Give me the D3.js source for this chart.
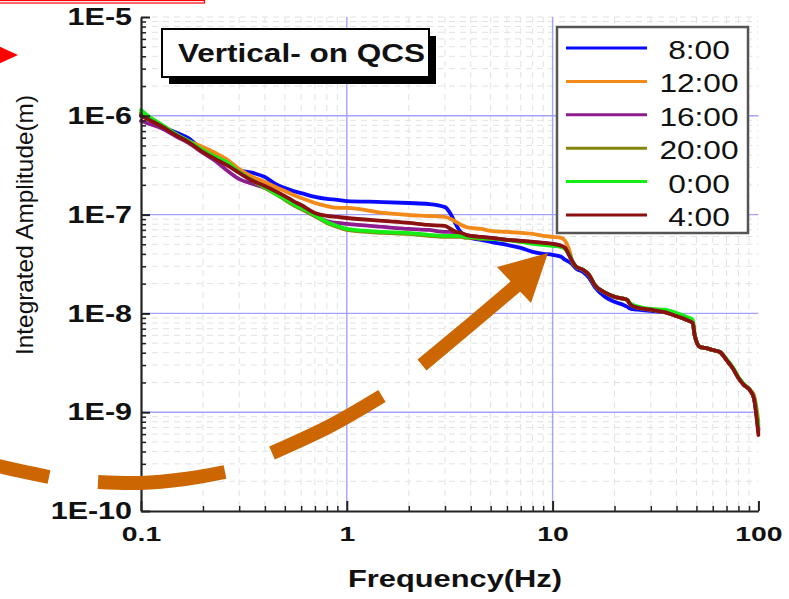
<!DOCTYPE html>
<html><head><meta charset="utf-8">
<script src="https://cdn.jsdelivr.net/npm/d3@7"></script>
<style>
html,body{margin:0;padding:0;background:#fff;}
svg{display:block;}
text{font-family:"Liberation Sans",Arial,Helvetica,sans-serif;}
</style></head><body>
<svg id="chart" width="789" height="599"></svg>
<script>
// ---------------- DATA ----------------
const frequency = [0.1,0.11,0.125,0.15,0.17,0.2,0.23,0.26,0.3,0.35,0.4,0.45,0.5,0.55,0.6,0.7,0.8,0.9,1,1.5,2,2.5,3,3.2,3.4,3.6,3.8,4,4.5,5,6,7,8,9,10,11,11.5,12,12.5,13,14,15,16,18,20,22,23,24,26,30,35,40,45,48,49,52,55,60,65,70,75,80,85,90,95,100];

const amp0800 = [1.02e-6,9.28e-7,7.88e-7,6.70e-7,5.96e-7, 4.50e-7,3.92e-7,3.41e-7,2.83e-7,2.64e-7, 2.40e-7,2.04e-7,1.86e-7,1.73e-7,1.65e-7, 1.51e-7,1.44e-7,1.41e-7,1.37e-7,1.34e-7, 1.31e-7,1.28e-7,1.19e-7,1.01e-7,7.86e-8, 6.53e-8,6.09e-8,5.81e-8,5.55e-8,5.30e-8, 4.94e-8,4.61e-8,4.20e-8,4.01e-8,3.92e-8, 3.74e-8,3.49e-8,3.33e-8,3.11e-8,2.84e-8, 2.64e-8,2.30e-8,1.86e-8,1.47e-8,1.31e-8, 1.22e-8,1.17e-8,1.11e-8,1.09e-8,1.06e-8, 1.03e-8,9.41e-9,8.57e-9,7.99e-9,6.04e-9, 4.57e-9,4.47e-9,4.26e-9,4.07e-9,3.38e-9, 2.80e-9,2.22e-9,1.89e-9,1.72e-9,1.40e-9, 6.60e-10];
const amp1200 = [1.067e-6,9.28e-7,7.88e-7,6.39e-7,5.56e-7, 4.83e-7,4.20e-7,3.65e-7,2.89e-7,2.40e-7, 2.14e-7,1.90e-7,1.73e-7,1.58e-7,1.47e-7, 1.31e-7,1.22e-7,1.17e-7,1.17e-7,1.04e-7, 9.91e-8,9.68e-8,9.46e-8,9.03e-8,8.42e-8, 7.86e-8,7.50e-8,7.33e-8,7.16e-8,6.84e-8, 6.68e-8,6.53e-8,6.38e-8,6.09e-8,5.95e-8, 5.81e-8,5.42e-8,4.51e-8,3.33e-8,2.97e-8, 2.77e-8,2.46e-8,1.95e-8,1.62e-8,1.47e-8, 1.41e-8,1.37e-8,1.22e-8,1.14e-8,1.09e-8, 1.03e-8,9.41e-9,8.57e-9,7.99e-9,6.04e-9, 4.57e-9,4.47e-9,4.26e-9,4.07e-9,3.38e-9, 2.80e-9,2.22e-9,1.89e-9,1.72e-9,1.50e-9, 8.0e-10];
const amp1600 = [8.86e-7,8.26e-7,7.52e-7,6.10e-7,5.31e-7, 4.20e-7,3.49e-7,2.83e-7,2.29e-7,2.04e-7, 1.86e-7,1.65e-7,1.47e-7,1.31e-7,1.17e-7, 9.68e-8,8.62e-8,8.23e-8,8.04e-8,7.50e-8, 7.16e-8,7.00e-8,6.68e-8,6.68e-8,6.53e-8, 6.38e-8,6.23e-8,6.09e-8,5.95e-8,5.81e-8, 5.55e-8,5.42e-8,5.30e-8,5.18e-8,5.06e-8, 4.83e-8,4.61e-8,4.01e-8,3.33e-8,2.97e-8, 2.77e-8,2.46e-8,1.95e-8,1.62e-8,1.47e-8, 1.41e-8,1.37e-8,1.22e-8,1.14e-8,1.09e-8, 1.03e-8,9.41e-9,8.57e-9,7.99e-9,6.04e-9, 4.57e-9,4.47e-9,4.26e-9,4.07e-9,3.38e-9, 2.80e-9,2.22e-9,1.89e-9,1.72e-9,1.40e-9, 6.92e-10];
const amp2000 = [1.067e-6,9.50e-7,8.07e-7,6.39e-7,5.43e-7, 4.40e-7,3.83e-7,3.33e-7,2.70e-7,2.19e-7, 1.86e-7,1.62e-7,1.41e-7,1.25e-7,1.14e-7, 9.68e-8,8.23e-8,7.50e-8,7.00e-8,6.53e-8, 6.38e-8,6.09e-8,5.95e-8,5.95e-8,5.95e-8, 5.95e-8,5.81e-8,5.81e-8,5.68e-8,5.68e-8, 5.55e-8,5.30e-8,5.18e-8,5.06e-8,4.94e-8, 4.72e-8,4.51e-8,4.01e-8,3.26e-8,2.97e-8, 2.77e-8,2.46e-8,1.95e-8,1.62e-8,1.47e-8, 1.41e-8,1.37e-8,1.22e-8,1.14e-8,1.09e-8, 1.03e-8,9.41e-9,8.57e-9,7.99e-9,6.04e-9, 4.57e-9,4.47e-9,4.26e-9,4.07e-9,3.38e-9, 2.80e-9,2.22e-9,1.89e-9,1.72e-9,1.40e-9, 6.30e-10];
const amp0000 = [1.145e-6,9.72e-7,8.26e-7,6.39e-7,5.56e-7, 4.50e-7,3.83e-7,3.41e-7,2.70e-7,2.19e-7, 1.90e-7,1.62e-7,1.44e-7,1.28e-7,1.17e-7, 9.91e-8,8.42e-8,7.68e-8,7.16e-8,6.68e-8, 6.53e-8,6.23e-8,6.09e-8,6.09e-8,6.09e-8, 6.09e-8,5.95e-8,5.95e-8,5.81e-8,5.68e-8, 5.55e-8,5.30e-8,5.06e-8,4.94e-8,4.83e-8, 4.72e-8,4.51e-8,4.01e-8,3.33e-8,2.97e-8, 2.77e-8,2.46e-8,1.95e-8,1.62e-8,1.47e-8, 1.41e-8,1.37e-8,1.25e-8,1.17e-8,1.11e-8, 1.09e-8,1.01e-8,9.2e-9,8.57e-9,6.2e-9, 4.57e-9,4.47e-9,4.26e-9,4.07e-9,3.46e-9, 2.86e-9,2.27e-9,1.93e-9,1.72e-9,1.43e-9, 7.42e-10];
const amp0400 = [9.95e-7,9.07e-7,7.88e-7,6.25e-7,5.43e-7, 4.30e-7,3.65e-7,3.18e-7,2.64e-7,2.19e-7, 1.95e-7,1.73e-7,1.54e-7,1.37e-7,1.25e-7, 1.04e-7,9.68e-8,9.46e-8,9.24e-8,8.62e-8, 8.23e-8,7.86e-8,7.68e-8,7.16e-8,6.68e-8, 6.53e-8,6.23e-8,6.09e-8,5.95e-8,5.81e-8, 5.55e-8,5.42e-8,5.30e-8,5.18e-8,5.06e-8, 4.83e-8,4.61e-8,3.92e-8,3.33e-8,2.97e-8, 2.77e-8,2.46e-8,1.95e-8,1.62e-8,1.47e-8, 1.41e-8,1.37e-8,1.22e-8,1.14e-8,1.09e-8, 1.03e-8,9.41e-9,8.57e-9,7.99e-9,6.04e-9, 4.57e-9,4.47e-9,4.26e-9,4.07e-9,3.38e-9, 2.80e-9,2.22e-9,1.89e-9,1.72e-9,1.40e-9, 5.88e-10];

const seriesNames = ["8:00","12:00","16:00","20:00","0:00","4:00"];
const seriesValues = [amp0800, amp1200, amp1600, amp2000, amp0000, amp0400];
const seriesColors = ["#0a0aff","#f28a1a","#8e1e8e","#86860f","#14ee14","#8b1010"];

const xTickValues = [0.1, 1, 10, 100];
const xTickLabels = ["0.1","1","10","100"];
const yTickValues = [1e-10, 1e-9, 1e-8, 1e-7, 1e-6, 1e-5];
const yTickLabels = ["1E-10","1E-9","1E-8","1E-7","1E-6","1E-5"];
const xGridMajor = [1, 10];
const yGridMajor = [1e-9, 1e-8, 1e-7, 1e-6];

const chartTitle = "Vertical- on QCS";
const xTitle = "Frequency(Hz)";
const yTitle = "Integrated Amplitude(m)";

// ---------------- DRAW ----------------
const svg = d3.select("#chart");
const x = d3.scaleLog().domain([0.1, 100]).range([141, 758.4]);
const y = d3.scaleLog().domain([1e-10, 1e-5]).range([511, 17]);
const [X0, X1] = x.range();
const [Y0, Y1] = y.range();

function stretch(sel, k){
  sel.each(function(){
    const w = this.getComputedTextLength();
    this.setAttribute("textLength", w * k);
    this.setAttribute("lengthAdjust", "spacingAndGlyphs");
  });
}

// minor positions (tick positions only)
const minorX = [], minorY = [];
for (let e = -1; e < 2; e++) for (let m = 2; m <= 9; m++) minorX.push(m * Math.pow(10, e));
for (let e = -10; e < -5; e++) for (let m = 2; m <= 9; m++) minorY.push(m * Math.pow(10, e));

// minor grid
const grid = svg.append("g");
grid.selectAll("line.gx").data(minorX).join("line")
  .attr("x1", d => x(d)).attr("x2", d => x(d)).attr("y1", Y1).attr("y2", Y0)
  .attr("stroke", "#e2e2e2").attr("stroke-width", 1).attr("stroke-dasharray", "6,5");
grid.selectAll("line.gy").data(minorY.concat([1e-5])).join("line")
  .attr("x1", X0).attr("x2", X1).attr("y1", d => y(d)).attr("y2", d => y(d))
  .attr("stroke", "#e2e2e2").attr("stroke-width", 1).attr("stroke-dasharray", "6,5");
// major grid (blue)
grid.selectAll("line.Mx").data(xGridMajor).join("line")
  .attr("x1", d => x(d)).attr("x2", d => x(d)).attr("y1", Y1).attr("y2", Y0)
  .attr("stroke", "#a3a3ff").attr("stroke-width", 1.4);
grid.selectAll("line.My").data(yGridMajor).join("line")
  .attr("x1", X0).attr("x2", X1).attr("y1", d => y(d)).attr("y2", d => y(d))
  .attr("stroke", "#a3a3ff").attr("stroke-width", 1.4);

// series lines
const line = d3.line().x(d => x(d[0])).y(d => y(d[1])).curve(d3.curveMonotoneX);
const gLines = svg.append("g");
seriesValues.forEach((vals, i) => {
  const pts = frequency.map((f, j) => [f, vals[j]]);
  gLines.append("path").attr("d", line(pts)).attr("fill", "none")
    .attr("stroke", seriesColors[i]).attr("stroke-width", 3.8)
    .attr("stroke-linejoin", "round").attr("stroke-linecap", "round");
});

// axes
const gyMinor = svg.append("g").attr("transform", `translate(${X0},0)`)
  .call(d3.axisLeft(y).tickValues(minorY).tickSize(-5).tickSizeOuter(0).tickFormat(""));
gyMinor.select(".domain").remove();
gyMinor.selectAll("line").attr("stroke", "#222").attr("stroke-width", 1.5);

const gxMinor = svg.append("g").attr("transform", `translate(0,${Y0})`)
  .call(d3.axisBottom(x).tickValues(minorX).tickSize(-5).tickSizeOuter(0).tickFormat(""));
gxMinor.select(".domain").remove();
gxMinor.selectAll("line").attr("stroke", "#222").attr("stroke-width", 1.5);

const gy = svg.append("g").attr("transform", `translate(${X0},0)`)
  .call(d3.axisLeft(y).tickValues(yTickValues).tickSize(-9).tickSizeOuter(0).tickPadding(9)
    .tickFormat((d, i) => yTickLabels[i]));
gy.attr("font-family", null).attr("font-size", null);
gy.select(".domain").attr("stroke", "#222").attr("stroke-width", 2.2);
gy.selectAll(".tick line").attr("stroke", "#222").attr("stroke-width", 2);
gy.selectAll(".tick text").attr("font-size", 24).attr("font-weight", "bold").attr("fill", "#111");
stretch(gy.selectAll(".tick text"), 1.27);

const gx = svg.append("g").attr("transform", `translate(0,${Y0})`)
  .call(d3.axisBottom(x).tickValues(xTickValues).tickSize(-10).tickSizeOuter(0).tickPadding(15)
    .tickFormat((d, i) => xTickLabels[i]));
gx.attr("font-family", null).attr("font-size", null);
gx.select(".domain").attr("stroke", "#222").attr("stroke-width", 2.2);
gx.selectAll(".tick line").attr("stroke", "#222").attr("stroke-width", 2);
gx.selectAll(".tick text").attr("font-size", 21).attr("font-weight", "bold").attr("fill", "#111");
stretch(gx.selectAll(".tick text"), 1.35);

// axis titles
svg.append("text").attr("x", 455).attr("y", 587).attr("text-anchor", "middle")
  .attr("font-size", 23).attr("font-weight", "bold").attr("fill", "#111")
  .attr("textLength", 214).attr("lengthAdjust", "spacingAndGlyphs").text(xTitle);
svg.append("text").attr("transform", "translate(33,225) rotate(-90)").attr("text-anchor", "middle")
  .attr("font-size", 24).attr("fill", "#111")
  .attr("textLength", 260).attr("lengthAdjust", "spacingAndGlyphs").text(yTitle);

// title box with shadow
svg.append("rect").attr("x", 169).attr("y", 36).attr("width", 267).attr("height", 48).attr("fill", "#000");
svg.append("rect").attr("x", 162).attr("y", 29).attr("width", 267).attr("height", 48)
  .attr("fill", "#fff").attr("stroke", "#000").attr("stroke-width", 2);
svg.append("text").attr("x", 301.5).attr("y", 62).attr("text-anchor", "middle")
  .attr("font-size", 26).attr("font-weight", "bold").attr("fill", "#111")
  .attr("textLength", 247).attr("lengthAdjust", "spacingAndGlyphs").text(chartTitle);

// legend
const leg = svg.append("g");
leg.append("rect").attr("x", 557).attr("y", 27).attr("width", 191).attr("height", 206)
  .attr("fill", "#fff").attr("stroke", "#555").attr("stroke-width", 2.5);
seriesNames.forEach((name, i) => {
  const ly = 48 + i * 33.4;
  leg.append("line").attr("x1", 566).attr("x2", 647).attr("y1", ly).attr("y2", ly)
    .attr("stroke", seriesColors[i]).attr("stroke-width", 3);
  const t = leg.append("text").attr("x", 699).attr("y", ly + 11).attr("text-anchor", "middle")
    .attr("font-size", 25.5).attr("fill", "#111").text(name);
  stretch(t, 1.24);
});

// annotations (decorations from the slide)
svg.append("rect").attr("x", -2).attr("y", 0.5).attr("width", 206.5).attr("height", 2.5)
  .attr("fill", "#fff").attr("stroke", "#ff0000").attr("stroke-width", 1.2);
svg.append("polygon").attr("points", "-4,45 18,55 -4,65").attr("fill", "#ff0000");

const arrowColor = "#cc6600";
const dashLine = d3.line().curve(d3.curveCatmullRom);
const dashes = [
  [[-6,465],[25,472],[49,477]],
  [[98,482],[140,483],[185,479],[225,472]],
  [[272,453],[330,426],[382,396]],
  [[422,365],[470,325],[516,286]]
];
dashes.forEach(p => svg.append("path").attr("d", dashLine(p)).attr("fill", "none")
  .attr("stroke", arrowColor).attr("stroke-width", 14).attr("stroke-linecap", "butt"));
svg.append("polygon").attr("points", "548,253 497,267 531,303").attr("fill", arrowColor);
</script>
</body></html>
